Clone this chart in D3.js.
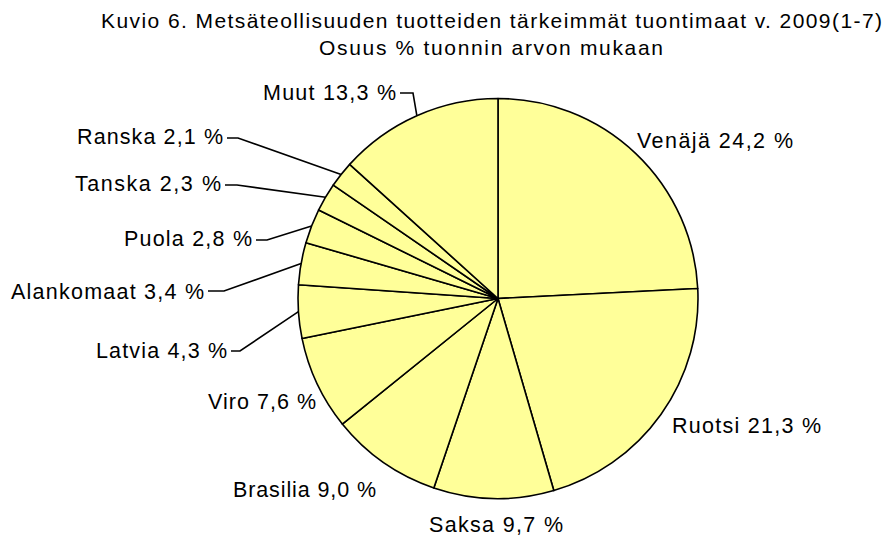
<!DOCTYPE html>
<html>
<head>
<meta charset="utf-8">
<script src="https://cdn.jsdelivr.net/npm/d3@7/dist/d3.min.js"></script>
<style>
  html, body { margin: 0; padding: 0; background: #ffffff; }
  svg { display: block; }
  text { font-family: "Liberation Sans", Arial, sans-serif; fill: #000; }
</style>
</head>
<body>
<script>
// Import shares of forest industry products by country of origin, 2009 (months 1-7)
const countries = ["Venäjä", "Ruotsi", "Saksa", "Brasilia", "Viro", "Latvia",
                   "Alankomaat", "Puola", "Tanska", "Ranska", "Muut"];
const shares = [24.2, 21.3, 9.7, 9.0, 7.6, 4.3, 3.4, 2.8, 2.3, 2.1, 13.3];

const titleLines = [
  "Kuvio 6. Metsäteollisuuden tuotteiden tärkeimmät tuontimaat v. 2009(1-7)",
  "Osuus % tuonnin arvon mukaan"
];

// Label placement: left edge, baseline, right edge, optional leader elbow
const labelLayout = [
  { x0: 637, y: 148, x1: 793 },
  { x0: 672, y: 433, x1: 821 },
  { x0: 429, y: 532, x1: 563 },
  { x0: 233, y: 497, x1: 376 },
  { x0: 208, y: 409, x1: 316 },
  { x0: 96,  y: 358, x1: 227, elbow: [240, 351] },
  { x0: 11,  y: 299, x1: 204, elbow: [224, 291] },
  { x0: 124, y: 246, x1: 252, elbow: [267, 240] },
  { x0: 75,  y: 191, x1: 221, elbow: [237, 185] },
  { x0: 77,  y: 144, x1: 223, elbow: [238, 138] },
  { x0: 263, y: 100, x1: 396, elbow: [413, 93] }
];

const W = 884, H = 537;
const cx = 498, cy = 298.5, R = 200;

const svg = d3.select("body").append("svg")
  .attr("width", W).attr("height", H);

// Title
const titleLayout = [
  { x0: 101, x1: 882, y: 27.5 },
  { x0: 319, x1: 663, y: 55 }
];
svg.append("g").selectAll("text")
  .data(titleLines)
  .join("text")
  .attr("x", (d, i) => titleLayout[i].x0)
  .attr("y", (d, i) => titleLayout[i].y)
  .attr("font-size", 21)
  .attr("textLength", (d, i) => titleLayout[i].x1 - titleLayout[i].x0)
  .attr("lengthAdjust", "spacing")
  .text(d => d);

const pie = d3.pie().sort(null).value(d => d)
  .startAngle(0).endAngle(2 * Math.PI);
const arcs = pie(shares);

const arc = d3.arc().innerRadius(0).outerRadius(R);
const edge = d3.arc().innerRadius(R).outerRadius(R);

const g = svg.append("g").attr("transform", `translate(${cx},${cy})`);

g.selectAll("path.slice")
  .data(arcs)
  .join("path")
  .attr("class", "slice")
  .attr("d", arc)
  .attr("fill", "#ffff99")
  .attr("stroke", "#000")
  .attr("stroke-width", 1.6)
  .attr("stroke-linejoin", "round");

const fmt = v => v.toFixed(1).replace(".", ",");

// Leader lines from each slice's outer midpoint to its label
const leaders = arcs.map((d, i) => ({ d, i, L: labelLayout[i] })).filter(o => o.L.elbow);
svg.append("g").selectAll("path")
  .data(leaders)
  .join("path")
  .attr("d", o => {
    const p = edge.centroid(o.d);
    const px = cx + p[0], py = cy + p[1];
    const [ex, ey] = o.L.elbow;
    return `M${o.L.x1 + 4},${ey}L${ex},${ey}L${px},${py}`;
  })
  .attr("fill", "none")
  .attr("stroke", "#000")
  .attr("stroke-width", 1.6);

// Labels
svg.append("g").selectAll("text")
  .data(arcs)
  .join("text")
  .attr("x", (d, i) => labelLayout[i].x0)
  .attr("y", (d, i) => labelLayout[i].y)
  .attr("font-size", 21.5)
  .attr("textLength", (d, i) => labelLayout[i].x1 - labelLayout[i].x0)
  .attr("lengthAdjust", "spacing")
  .text((d, i) => `${countries[i]} ${fmt(d.data)} %`);
</script>
</body>
</html>
